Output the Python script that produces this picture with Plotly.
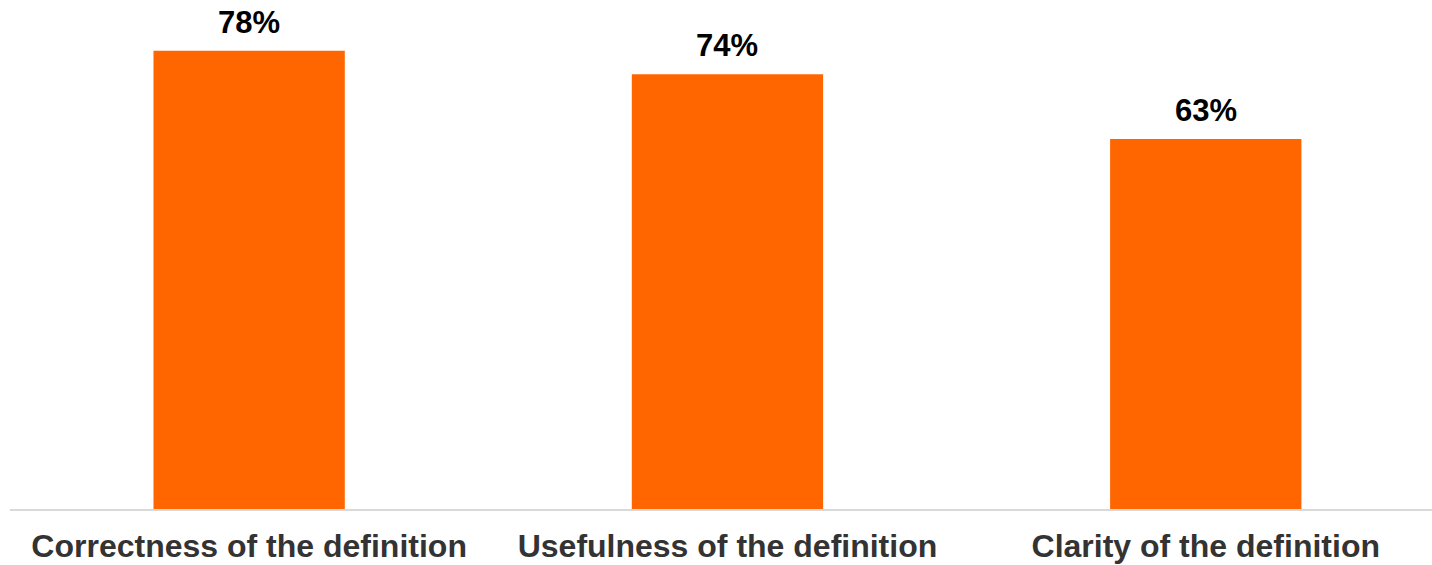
import plotly.graph_objects as go

categories = ["Correctness of the definition", "Usefulness of the definition", "Clarity of the definition"]
values = [78, 74, 63]
value_labels = ["78%", "74%", "63%"]

BAR = "#FF6600"
FONT = "Liberation Sans, Arial, sans-serif"

fig = go.Figure()
fig.add_trace(go.Bar(
    x=categories, y=values, marker=dict(color=BAR, line=dict(width=0)),
    hoverinfo="skip",
))

for c, v, t in zip(categories, values, value_labels):
    fig.add_annotation(x=c, y=v, text="<b>%s</b>" % t, showarrow=False,
                       yanchor="bottom", yshift=9,
                       font=dict(family=FONT, size=31, color="#000000"))

fig.update_layout(
    width=1432, height=565,
    margin=dict(l=10, r=0, t=0, b=56),
    paper_bgcolor="white", plot_bgcolor="white",
    bargap=0.6, showlegend=False,
    xaxis=dict(type="category", range=[-0.5, 2.473], showgrid=False,
               showline=True, linecolor="#D9D9D9", linewidth=1.5,
               tickfont=dict(family=FONT, size=32, color="#333333"),
               ticks="", ticklabelstandoff=8,
               tickvals=categories,
               ticktext=["<b>%s</b>" % c for c in categories]),
    yaxis=dict(range=[0, 86.65], visible=False, showgrid=False),
)

fig.write_html("out.html", config={"displayModeBar": False, "staticPlot": True},
               post_script="document.body.style.margin='0';document.body.style.overflow='hidden';")
